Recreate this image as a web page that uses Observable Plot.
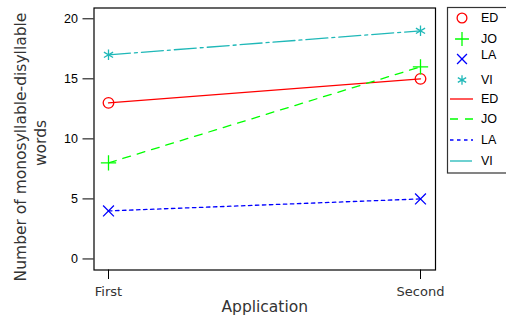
<!DOCTYPE html>
<html><head><meta charset="utf-8">
<script src="https://cdn.jsdelivr.net/npm/d3@7"></script>
<script src="https://cdn.jsdelivr.net/npm/@observablehq/plot@0.6"></script>
<style>body{margin:0;background:#fff}#chart{width:506px;height:322px}</style>
</head><body><div id="chart"></div>
<script>
const applications = ["First", "Second"];
const subjects = ["ED", "JO", "LA", "VI"];
const edValues = [13, 15];
const joValues = [8, 16];
const laValues = [4, 5];
const viValues = [17, 19];
const yTicks = [0, 5, 10, 15, 20];
const seriesValues = [edValues, joValues, laValues, viValues];
const colors = ["#FF0000", "#00FF00", "#0000FF", "#1FB8B8"];
const symbols = ["circle", "plus", "times", "asterisk"];
const dashes = [null, "8,7", "3.5,3.5", "22,4,3,4"];

const rows = subjects.flatMap((s, i) => applications.map((a, j) => ({subject: s, application: a, value: seriesValues[i][j]})));

const chart = Plot.plot({
  width: 506, height: 322,
  marginLeft: 93.5, marginRight: 71, marginTop: 7.5, marginBottom: 52.5,
  style: {fontFamily: "'Liberation Sans'", fontSize: "12px", background: "white", color: "black"},
  x: {type: "point", domain: applications, padding: 0.047},
  y: {domain: [-0.92, 20.9]},
  marks: [
    ...subjects.map((s, i) => Plot.lineY(rows.filter(d => d.subject === s), {
      x: "application", y: "value", stroke: colors[i], strokeWidth: 1.3, strokeDasharray: dashes[i]
    })),
    ...subjects.map((s, i) => Plot.dot(rows.filter(d => d.subject === s), {
      x: "application", y: "value", symbol: symbols[i], stroke: colors[i], fill: "none", r: i === 0 ? 5.3 : 5, strokeWidth: 1.3
    })),
    Plot.axisY({ticks: yTicks, tickSize: 11, tickPadding: 5, label: null, fontSize: 12.5, fontFamily: "'Liberation Sans'"}),
    Plot.axisX({tickSize: 9.5, tickPadding: 7, label: null, fontSize: 13, fontFamily: "'DejaVu Sans'", fill: "#333"}),
    Plot.frame({stroke: "black", strokeWidth: 1.2}),
    Plot.text(["Application"], {frameAnchor: "bottom", dy: 41.5, fontSize: 15.5, fontFamily: "'DejaVu Sans'", fill: "#333"}),
    Plot.text(["Number of monosyllable-disyllable"], {frameAnchor: "left", textAnchor: "middle", dx: -73, dy: 8, rotate: -90, fontSize: 15.5, fontFamily: "'DejaVu Sans'", fill: "#333"}),
    Plot.text(["words"], {frameAnchor: "left", textAnchor: "middle", dx: -53, dy: 4, rotate: -90, fontSize: 15.5, fontFamily: "'DejaVu Sans'", fill: "#333"})
  ]
});
document.getElementById("chart").appendChild(chart);

// Legend
const svg = d3.select(chart);
const lg = svg.append("g").attr("text-anchor", "start");
lg.append("rect").attr("x", 447.5).attr("y", 7.5).attr("width", 60).attr("height", 165.5)
  .attr("fill", "white").attr("stroke", "#333").attr("stroke-width", 1.2);
const symbolMap = {circle: d3.symbolCircle, plus: d3.symbolPlus, times: d3.symbolTimes, asterisk: d3.symbolAsterisk};
const symY = [18, 39, 59, 80];
const labY = [18, 39, 55, 80];
const lineY = [99, 119, 140, 161];
subjects.forEach((s, i) => {
  lg.append("path").attr("transform", `translate(462,${symY[i]})`)
    .attr("d", d3.symbol(symbolMap[symbols[i]], i === 0 ? 75 : 65)())
    .attr("fill", "none").attr("stroke", colors[i]).attr("stroke-width", 1.3);
  lg.append("text").attr("x", 481).attr("y", labY[i]).attr("dy", "0.35em").attr("text-anchor", "start")
    .attr("font-family", "'Liberation Sans'").attr("font-size", 12.5).text(s);
  lg.append("line").attr("x1", 450).attr("x2", 473).attr("y1", lineY[i]).attr("y2", lineY[i])
    .attr("stroke", colors[i]).attr("stroke-width", 1.3).attr("stroke-dasharray", dashes[i]);
  lg.append("text").attr("x", 481).attr("y", lineY[i]).attr("dy", "0.35em").attr("text-anchor", "start")
    .attr("font-family", "'Liberation Sans'").attr("font-size", 12.5).text(s);
});
</script></body></html>
